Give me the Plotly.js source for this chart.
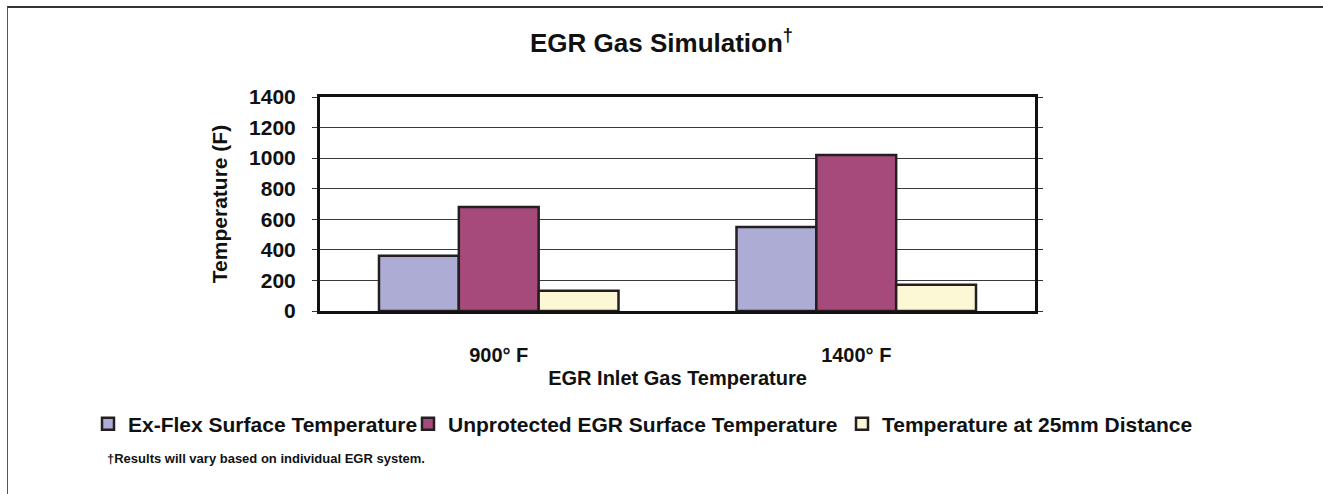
<!DOCTYPE html>
<html>
<head>
<meta charset="utf-8">
<script src="https://cdn.plot.ly/plotly-3.0.1.min.js"></script>
<style>
  html, body { margin: 0; padding: 0; background: #fff; }
  #wrap { position: relative; width: 1323px; height: 494px; overflow: hidden; }
  #chart { width: 1323px; height: 494px; }
  #frame { position: absolute; left: 7px; top: 6px; width: 1330px; height: 500px;
           border-top: 2px solid #333; border-left: 1px solid #555; pointer-events: none; }
</style>
</head>
<body>
<div id="wrap">
  <div id="chart"></div>
  <div id="frame"></div>
</div>
<script>
const categories = ["900° F", "1400° F"];
const seriesNames = ["Ex-Flex Surface Temperature", "Unprotected EGR Surface Temperature", "Temperature at 25mm Distance"];
const exFlex = [362, 550];
const unprotected = [680, 1020];
const at25mm = [132, 172];
const seriesColors = ["#acacd4", "#a64a7b", "#fcf8d6"];
const yTicks = [0, 200, 400, 600, 800, 1000, 1200, 1400];

const FONT = "Liberation Sans, Arial, Helvetica, sans-serif";
const values = [exFlex, unprotected, at25mm];
const legendIds = ["legend", "legend2", "legend3"];
// text start x (px) of each legend entry
const legendTextX = [128, 448, 882];

const traces = values.map((v, i) => ({
  type: "bar",
  name: seriesNames[i],
  x: categories,
  y: v,
  legend: legendIds[i],
  marker: { color: seriesColors[i], line: { color: "#231f20", width: 2.5 } },
  hoverinfo: "x+y+name"
}));

const legendFont = { family: FONT, size: 21, color: "#111111", weight: "bold" };
function legendAt(textX) {
  return {
    orientation: "h",
    xref: "container", yref: "container",
    x: (textX - 40) / 1323, xanchor: "left",
    y: 1 - 424 / 494, yanchor: "middle",
    font: legendFont,
    bgcolor: "rgba(0,0,0,0)",
    itemclick: false, itemdoubleclick: false
  };
}

const layout = {
  width: 1323,
  height: 494,
  margin: { l: 320, r: 288, t: 97, b: 183 },
  paper_bgcolor: "#ffffff",
  plot_bgcolor: "#ffffff",
  font: { family: FONT, color: "#111111", size: 21 },
  title: {
    text: "EGR Gas Simulation<sup>†</sup>",
    font: { family: FONT, size: 26, color: "#111111", weight: "bold" },
    x: 0.5, xref: "container", xanchor: "center",
    y: 1 - 43 / 494, yref: "container", yanchor: "middle"
  },
  barmode: "group",
  bargap: 0.33,
  bargroupgap: 0,
  showlegend: true,
  legend: legendAt(legendTextX[0]),
  legend2: legendAt(legendTextX[1]),
  legend3: legendAt(legendTextX[2]),
  xaxis: {
    type: "category",
    showline: true, linecolor: "#111111", linewidth: 3, mirror: true,
    ticks: "", showgrid: false, zeroline: false,
    ticklabelstandoff: 24,
    tickfont: { family: FONT, size: 20, color: "#111111", weight: "bold" },
    title: { text: "EGR Inlet Gas Temperature", font: { family: FONT, size: 20, color: "#111111", weight: "bold" }, standoff: 6 },
    automargin: false
  },
  yaxis: {
    range: [0, 1400],
    tickmode: "array", tickvals: yTicks, ticktext: yTicks.map(String),
    showline: true, linecolor: "#111111", linewidth: 3, mirror: "ticks",
    ticks: "outside", ticklen: 5, tickcolor: "#333333", tickwidth: 1,
    showgrid: true, gridcolor: "#3a3a3a", gridwidth: 1,
    zeroline: false,
    ticklabelstandoff: 12,
    tickfont: { family: FONT, size: 21, color: "#111111", weight: "bold" },
    title: { text: "Temperature (F)", font: { family: FONT, size: 21, color: "#111111", weight: "bold" }, standoff: 16 },
    automargin: false
  },
  annotations: [{
    text: "†Results will vary based on individual EGR system.",
    xref: "paper", yref: "paper",
    x: (105 - 320) / 715, xanchor: "left",
    y: (311 - 459) / 214, yanchor: "middle",
    showarrow: false,
    font: { family: FONT, size: 13, color: "#111111", weight: "bold" }
  }]
};

Plotly.newPlot("chart", traces, layout, { displayModeBar: false, responsive: false });
</script>
</body>
</html>
